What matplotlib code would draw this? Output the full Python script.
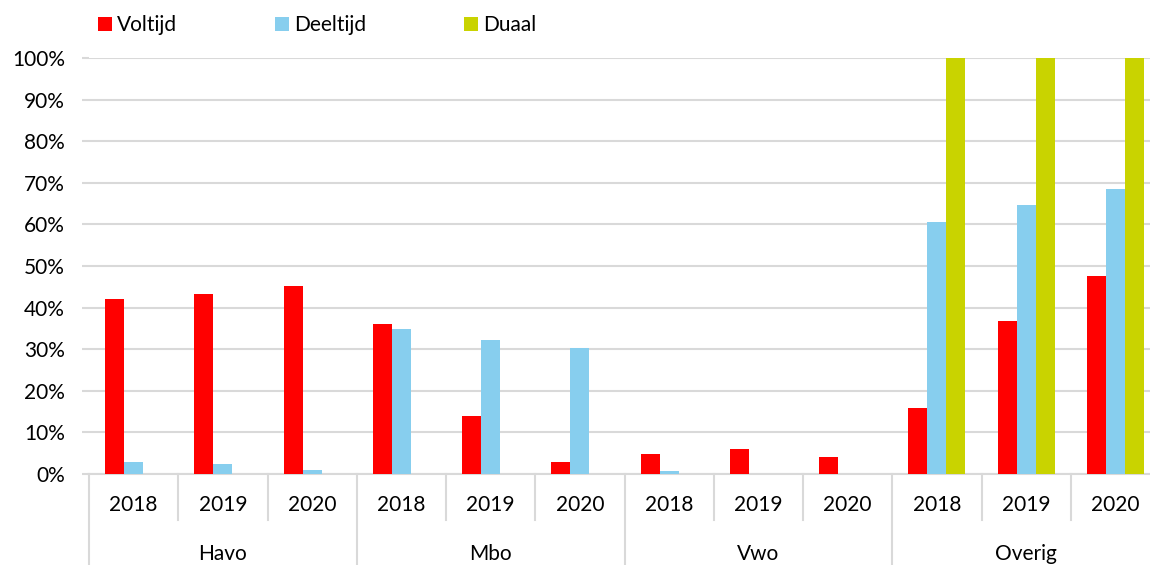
import numpy as np
import matplotlib
matplotlib.use("Agg")
import matplotlib.pyplot as plt
from matplotlib.patches import Patch

# data (percentages)
categories = ["Havo", "Mbo", "Vwo", "Overig"]
years = ["2018", "2019", "2020"]
series = ["Voltijd", "Deeltijd", "Duaal"]
voltijd = [42.1, 43.3, 45.3, 36.1, 14.0, 2.9, 4.8, 6.0, 4.2, 15.8, 36.7, 47.6]
deeltijd = [2.9, 2.3, 0.9, 34.8, 32.2, 30.3, 0.8, np.nan, np.nan, 60.6, 64.6, 68.5]
duaal = [np.nan] * 9 + [100, 100, 100]
colors = ["#FF0000", "#87CEEE", "#C9D300"]

plt.rcParams["font.family"] = ["Lato", "DejaVu Sans"]

fig = plt.figure(figsize=(11.5, 5.65), dpi=100)
W, H = 1150, 565
ax = fig.add_axes([89 / W, (H - 474) / H, (1160 - 89) / W, (474 - 58) / H])

n = len(categories) * len(years)
x = np.arange(n)
w = 0.213
for i, (vals, c) in enumerate(zip([voltijd, deeltijd, duaal], colors)):
    ax.bar(x + (i - 1) * w, np.array(vals) / 100, width=w, color=c, zorder=3)

ax.set_xlim(-0.5, n - 0.5)
ax.set_ylim(0, 1)
ax.set_yticks(np.arange(0, 1.01, 0.1))
ax.set_yticklabels([f"{int(round(v * 100))}%" for v in np.arange(0, 1.01, 0.1)])
ax.grid(axis="y", color="#D9D9D9", lw=1.5, zorder=0)
ax.tick_params(axis="y", length=5.2, width=1.5, color="#D9D9D9", labelsize=15, pad=12)
ax.set_xticks([])
for s in ["top", "right", "left"]:
    ax.spines[s].set_visible(False)
ax.spines["bottom"].set_color("#D9D9D9")
ax.spines["bottom"].set_linewidth(1.5)

# two-level category axis
tr = ax.get_xaxis_transform()
ax_h = 416.0
for k in range(n + 1):
    xb = k - 0.5
    if k % 3 == 0:
        ax.plot([xb, xb], [0, -91 / ax_h], transform=tr, color="#D9D9D9", lw=1.5, clip_on=False)
    else:
        ax.plot([xb, xb], [0, -46 / ax_h], transform=tr, color="#D9D9D9", lw=1.5, clip_on=False)
for k in range(n):
    ax.text(k, -31 / ax_h, years[k % 3], transform=tr, ha="center", va="center", fontsize=15)
for j, cat in enumerate(categories):
    ax.text(j * 3 + 1, -80 / ax_h, cat, transform=tr, ha="center", va="center", fontsize=15)

handles = [Patch(facecolor=c, edgecolor="none") for c in colors]
fig.legend(handles, series, loc="upper left", bbox_to_anchor=(98 / W, 1 - 15 / H),
           ncol=3, frameon=False, fontsize=15, handlelength=0.65, handleheight=0.65,
           handletextpad=0.27, columnspacing=4.7, borderpad=0, borderaxespad=0)

fig.savefig("out.png", dpi=100)
